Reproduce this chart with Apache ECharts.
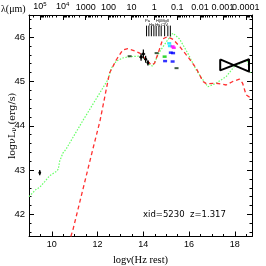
<!DOCTYPE html>
<html><head><meta charset="utf-8">
<script src="https://cdn.jsdelivr.net/npm/echarts@6/dist/echarts.min.js"></script>
<style>html,body{margin:0;padding:0;background:#fff}#c{width:266px;height:266px}</style>
</head><body><div id="c"></div>
<script>
// ---- data (log nu [Hz rest], log nuLnu [erg/s]) ----
const greenNu = [9.0, 9.32, 9.47, 9.69, 9.9, 10.2, 10.28, 10.34, 10.48, 10.63, 11.36, 12.45, 12.6, 12.82, 13.1, 13.4, 13.8, 13.97, 14.2, 14.41, 14.71, 15.0, 15.29, 15.58, 15.94, 16.31, 16.6, 16.82, 17.18, 17.62, 17.98, 18.41, 18.56, 18.64, 18.71];
const greenL  = [42.40, 42.57, 42.61, 42.74, 42.87, 42.97, 43.02, 43.20, 43.38, 43.48, 44.12, 45.04, 45.30, 45.46, 45.53, 45.56, 45.57, 45.56, 45.41, 45.34, 45.67, 45.89, 46.09, 45.96, 45.64, 45.26, 45.04, 44.88, 44.96, 45.11, 45.34, 45.45, 45.45, 45.22, 45.20];
const redNu = [10.83, 10.92, 11.8, 12.1, 12.52, 12.82, 13.1, 13.32, 13.62, 13.84, 14.2, 14.35, 14.49, 14.7, 14.85, 15.05, 15.3, 15.6, 15.94, 16.31, 16.6, 16.75, 17.18, 17.62, 17.91, 18.2, 18.34, 18.49, 18.71];
const redL  = [41.50, 41.65, 43.49, 44.10, 45.19, 45.49, 45.71, 45.74, 45.69, 45.64, 45.45, 45.37, 45.41, 45.72, 45.96, 46.01, 45.95, 45.78, 45.56, 45.30, 45.00, 44.95, 44.96, 44.92, 45.00, 45.05, 44.96, 44.70, 44.62];
// photometry with error bars: nu, L, dnu, dL
const photNu  = [9.47, 13.9, 14.0, 14.1, 14.2];
const photL   = [42.94, 45.55, 45.62, 45.50, 45.42];
const photDnu = [0.0, 0.08, 0.08, 0.07, 0.05];
const photDL  = [0.06, 0.08, 0.10, 0.08, 0.06];
// small dark dashes
const dashNu = [13.4, 14.58, 15.45];
const dashL  = [45.57, 45.64, 45.30];
// coloured spectroscopic points
const cyanNu = [15.13, 15.16]; const cyanL = [45.86, 45.80];
const magNu  = [15.28, 15.33]; const magL  = [45.79, 45.76];
const blueNu = [15.2, 15.3, 14.95, 15.28]; const blueL = [45.65, 45.64, 45.46, 45.45];
const grnNu  = [14.93]; const grnL = [45.56];
// X-ray bowtie
const bowNu = [17.36, 18.62, 18.62, 17.36, 17.36];
const bowL  = [45.50, 45.22, 45.50, 45.25, 45.50];
// emission line markers
const lineNu = [14.14, 14.24, 14.35, 14.46, 14.56, 14.68, 14.78, 14.93, 15.07, 15.18];
const lineTop = 46.26, lineBot = 46.02;
// axis ticks
const xMajor = [10, 12, 14, 16, 18];
const yMajor = [42, 43, 44, 45, 46];
const lamLabels = ['10^5', '10^4', '1000', '100', '10', '1', '0.1', '0.01', '0.001', '0.0001'];
const lamExp = [5, 4, 3, 2, 1, 0, -1, -2, -3, -4];
const XMIN = 9, XMAX = 18.75, YMIN = 41.5, YMAX = 46.5;
const logC = Math.log10(2.998e14);

const lamMajor = lamExp.map(e => logC - e);
const lamMinor = [];
for (let e = 5; e >= -5; e--) for (let m = 2; m <= 9; m++) {
  const v = logC - (e + Math.log10(m));
  if (v > XMIN && v < XMAX) lamMinor.push(v);
}
const xMinor = []; for (let v = 9.5; v < XMAX; v += 0.5) xMinor.push(v);
const yMinor = []; for (let v = 41.6; v < YMAX; v += 0.2) yMinor.push(+v.toFixed(2));
// split top labels into two sets so neighbouring labels may overlap like the original
const lamSetA = lamMajor.filter((v, i) => i % 2 === 0);
const lamSetB = lamMajor.filter((v, i) => i % 2 === 1);

const zip = (a, b) => a.map((v, i) => [v, b[i]]);
const FONT = 'Liberation Sans';
const SERIF = 'Liberation Serif';

const baseX = (pos) => ({
  type: 'value', min: XMIN, max: XMAX, position: pos,
  axisLine: {show: true, onZero: false, lineStyle: {color: '#000', width: 1}},
  splitLine: {show: false}
});
const baseY = (pos) => ({
  type: 'value', min: YMIN, max: YMAX, position: pos,
  axisLine: {show: true, onZero: false, lineStyle: {color: '#000', width: 1}},
  splitLine: {show: false}
});
const lamFormatter = (v) => {
  let best = 0;
  lamMajor.forEach((m, i) => { if (Math.abs(m - v) < Math.abs(lamMajor[best] - v)) best = i; });
  const t = lamLabels[best];
  if (t.indexOf('^') > 0) { const p = t.split('^'); return '{n|' + p[0] + '}{s|' + p[1] + '}'; }
  return '{n|' + t + '}';
};
const lamRich = {n: {fontFamily: FONT, fontSize: 9, color: '#000'}, s: {fontFamily: FONT, fontSize: 6, color: '#000', verticalAlign: 'top', padding: [0, 0, 5, 0]}};
const lamLabelAxis = (vals) => Object.assign(baseX('top'), {
  axisLine: {show: false}, axisTick: {show: false},
  axisLabel: {customValues: vals, margin: 3, hideOverlap: false, formatter: lamFormatter, rich: lamRich}
});

const chart = echarts.init(document.getElementById('c'), null, {renderer: 'canvas'});
chart.setOption({
  animation: false,
  backgroundColor: '#fff',
  grid: {left: 29, right: 14, top: 15, bottom: 29.5, containLabel: false, outerBoundsMode: 'none'},
  xAxis: [
    Object.assign(baseX('bottom'), {
      axisTick: {inside: true, length: 5, customValues: xMajor, lineStyle: {color: '#000'}},
      axisLabel: {customValues: xMajor, color: '#000', fontFamily: FONT, fontSize: 9, margin: 4},
      name: 'logν(Hz rest)', nameLocation: 'middle', nameGap: 18, nameMoveOverlap: false,
      nameTextStyle: {fontFamily: SERIF, fontSize: 10.5, color: '#000'}
    }),
    Object.assign(baseX('bottom'), {
      axisLine: {show: false},
      axisTick: {inside: true, length: 2.5, customValues: xMinor, lineStyle: {color: '#000'}},
      axisLabel: {show: false}
    }),
    Object.assign(baseX('top'), {
      axisTick: {inside: true, length: 5, customValues: lamMajor, lineStyle: {color: '#000'}},
      axisLabel: {show: false}
    }),
    Object.assign(baseX('top'), {
      axisLine: {show: false},
      axisTick: {inside: true, length: 2.5, customValues: lamMinor, lineStyle: {color: '#000'}},
      axisLabel: {show: false}
    }),
    lamLabelAxis(lamSetA),
    lamLabelAxis(lamSetB)
  ],
  yAxis: [
    Object.assign(baseY('left'), {
      axisTick: {inside: true, length: 5, customValues: yMajor, lineStyle: {color: '#000'}},
      axisLabel: {customValues: yMajor, color: '#000', fontFamily: FONT, fontSize: 9.5, margin: 4},
      name: '{a|logνL}{s|ν}{a|\u00a0(erg/s)}', nameLocation: 'middle', nameGap: 11, nameRotate: 90, nameMoveOverlap: false,
      nameTextStyle: {rich: {a: {fontFamily: 'DejaVu Serif', fontSize: 9.5, color: '#000'}, s: {fontFamily: 'DejaVu Serif', fontSize: 7, color: '#000', verticalAlign: 'bottom', padding: [4, 0, 0, 0]}}}
    }),
    Object.assign(baseY('left'), {
      axisLine: {show: false},
      axisTick: {inside: true, length: 2.5, customValues: yMinor, lineStyle: {color: '#000'}},
      axisLabel: {show: false}
    }),
    Object.assign(baseY('right'), {
      axisTick: {inside: true, length: 5, customValues: yMajor, lineStyle: {color: '#000'}},
      axisLabel: {show: false}
    }),
    Object.assign(baseY('right'), {
      axisLine: {show: false},
      axisTick: {inside: true, length: 2.5, customValues: yMinor, lineStyle: {color: '#000'}},
      axisLabel: {show: false}
    })
  ],
  graphic: [
    {type: 'text', left: 1, top: 4, style: {text: 'λ(μm)', font: '10px "Liberation Serif"', fill: '#000'}},
    {type: 'text', left: 143, top: 210, style: {text: 'xid=5230  z=1.317', font: '8.5px "DejaVu Sans"', fill: '#000'}},
    {type: 'text', left: 145, top: 19, style: {text: 'Pa', font: '4px "Liberation Sans"', fill: '#000'}},
    {type: 'text', left: 156, top: 19, style: {text: 'HβMgII', font: '4px "Liberation Sans"', fill: '#000'}},
    {type: 'text', left: 149, top: 23, style: {text: 'Hα Hγ CIV', font: '4px "Liberation Sans"', fill: '#000'}}
  ],
  series: [
    {type: 'line', data: zip(greenNu, greenL), showSymbol: false, symbol: 'none', clip: true,
     lineStyle: {color: '#66ff66', width: 1.2, type: [1.5, 1.5]}, z: 3},
    {type: 'line', data: zip(redNu, redL), showSymbol: false, symbol: 'none', clip: true,
     lineStyle: {color: '#ff3030', width: 1.3, type: [4, 3]}, z: 4},
    {type: 'line', data: zip(bowNu, bowL), showSymbol: false, symbol: 'none',
     lineStyle: {color: '#000', width: 2}, z: 5},
    {type: 'custom', z: 6,
     data: photNu.map((v, i) => [v, photL[i], photDnu[i], photDL[i]]),
     renderItem: (params, api) => {
       const x = api.value(0), y = api.value(1), dx = api.value(2), dy = api.value(3);
       const c = api.coord([x, y]);
       const l = api.coord([x - dx, y]), r = api.coord([x + dx, y]);
       const t = api.coord([x, y + dy]), b = api.coord([x, y - dy]);
       const st = {stroke: '#000', lineWidth: 1.2};
       return {type: 'group', children: [
         {type: 'line', shape: {x1: l[0], y1: l[1], x2: r[0], y2: r[1]}, style: st},
         {type: 'line', shape: {x1: t[0], y1: t[1], x2: b[0], y2: b[1]}, style: st},
         {type: 'polygon', shape: {points: [[c[0], c[1] - 2.5], [c[0] + 1.5, c[1]], [c[0], c[1] + 2.5], [c[0] - 1.5, c[1]]]}, style: {fill: '#000'}}
       ]};
     }},
    {type: 'custom', z: 6,
     data: lineNu.map(v => [v, lineTop, lineBot]),
     renderItem: (params, api) => {
       const a = api.coord([api.value(0), api.value(1)]);
       const b = api.coord([api.value(0), api.value(2)]);
       return {type: 'line', shape: {x1: a[0], y1: a[1], x2: b[0], y2: b[1]}, style: {stroke: '#000', lineWidth: 1}};
     }},
    {type: 'scatter', data: zip(dashNu, dashL), symbol: 'rect', symbolSize: [4, 2], itemStyle: {color: '#113311'}, z: 7},
    {type: 'scatter', data: zip(cyanNu, cyanL), symbol: 'rect', symbolSize: [4, 2.5], itemStyle: {color: '#00e5ff'}, z: 7},
    {type: 'scatter', data: zip(magNu, magL), symbol: 'rect', symbolSize: [4, 2.5], itemStyle: {color: '#ff00ff'}, z: 7},
    {type: 'scatter', data: zip(blueNu, blueL), symbol: 'rect', symbolSize: [4, 2.5], itemStyle: {color: '#0000ff'}, z: 7},
    {type: 'scatter', data: zip(grnNu, grnL), symbol: 'rect', symbolSize: [4, 2.5], itemStyle: {color: '#00cc00'}, z: 7}
  ]
});
</script></body></html>
